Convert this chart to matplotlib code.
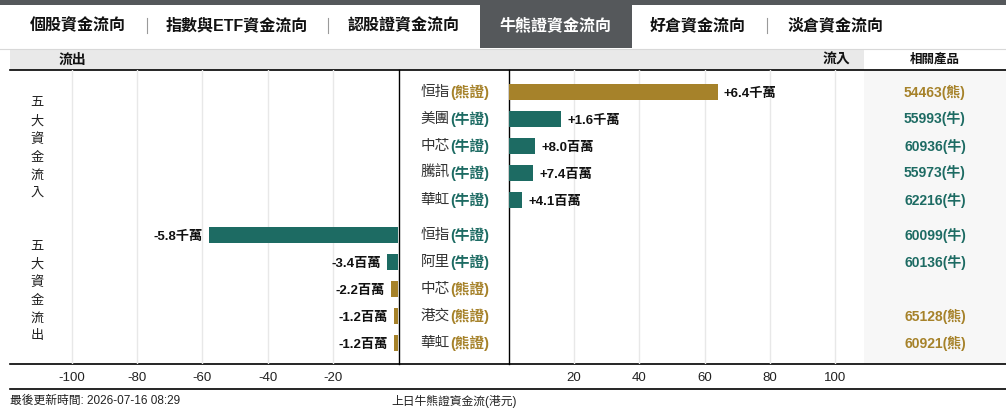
import numpy as np
import matplotlib.pyplot as plt
from matplotlib.patches import Rectangle

plt.rcParams['axes.unicode_minus'] = False

##### DATA (百萬港元) #####
IN_NAMES = ['恒指', '美團', '中芯', '騰訊', '華虹']
IN_TYPES = ['熊證', '牛證', '牛證', '牛證', '牛證']
IN_VALUES = [64, 16, 8.0, 7.4, 4.1]
IN_PRODUCTS = ['54463(熊)', '55993(牛)', '60936(牛)', '55973(牛)', '62216(牛)']

OUT_NAMES = ['恒指', '阿里', '中芯', '港交', '華虹']
OUT_TYPES = ['牛證', '牛證', '熊證', '熊證', '熊證']
OUT_VALUES = [-58, -3.4, -2.2, -1.2, -1.2]
OUT_PRODUCTS = ['60099(牛)', '60136(牛)', '', '65128(熊)', '60921(熊)']

TABS = ['個股資金流向', '指數與ETF資金流向', '認股證資金流向', '牛熊證資金流向', '好倉資金流向', '淡倉資金流向']
ACTIVE_TAB = 3
LEFT_TICKS = [-100, -80, -60, -40, -20]
RIGHT_TICKS = [20, 40, 60, 80, 100]
UPDATE_TIME = '2026-07-16 08:29'

##### STYLE #####
W, H = 1006, 413
GOLD = '#a6822a'
TEAL = '#1d6b63'
DARK = '#55585b'
CJK = ['Noto Sans CJK TC']
MIX = ['Liberation Sans', 'Noto Sans CJK TC']
TYPE_COLOR = {'熊證': GOLD, '牛證': TEAL}

PX_PER_UNIT = 65.25 / 20
ZERO_L, ZERO_R = 398.25, 508.75
BODY_TOP, BODY_BOT = 70, 364
ROW0, ROW_STEP = 92, 27


def fmt(v):
    sign = '+' if v > 0 else '-'
    a = abs(v)
    if a >= 10:
        return f'{sign}{a / 10:.1f}千萬'
    return f'{sign}{a:.1f}百萬'


def fig_rect(x0, x1):
    return [x0 / W, 1 - BODY_BOT / H, (x1 - x0) / W, (BODY_BOT - BODY_TOP) / H]


fig = plt.figure(figsize=(W / 100, H / 100), dpi=100)
bg = fig.add_axes([0, 0, 1, 1])
bg.set_xlim(0, W)
bg.set_ylim(H, 0)
bg.axis('off')

# top bar and tabs
bg.add_patch(Rectangle((0, 0), W, 4.5, color=DARK, lw=0))
bg.add_patch(Rectangle((480, 0), 152, 48, color=DARK, lw=0))
tab_x = [78, 237, 404, 556, 698, 836]
for i, (t, x) in enumerate(zip(TABS, tab_x)):
    bg.text(x, 25, t, ha='center', va='center', fontsize=11.5, fontweight='bold',
            family=MIX, color='white' if i == ACTIVE_TAB else '#111111')
for x in [147, 328, 767]:
    bg.plot([x, x], [18, 33], color='#9a9a9a', lw=0.8)

# header band
bg.add_patch(Rectangle((10, 48.5), 854, 21, color='#e9e9e9', lw=0))
bg.plot([0, W], [48.5, 48.5], color='#d8d8d8', lw=0.8)
bg.text(72, 59.5, '流出', ha='center', va='center', fontsize=10, fontweight='bold', family=CJK, color='#111111')
bg.text(836, 59.5, '流入', ha='center', va='center', fontsize=10, fontweight='bold', family=CJK, color='#111111')
bg.text(935, 59.5, '相關產品', ha='center', va='center', fontsize=9, fontweight='bold', family=CJK, color='#111111')

# product column background
bg.add_patch(Rectangle((864, BODY_TOP), W - 864, BODY_BOT - BODY_TOP, color='#f7f7f7', lw=0))

# lines
bg.plot([10, W], [BODY_TOP, BODY_TOP], color='black', lw=1.2)
bg.plot([10, W], [BODY_BOT, BODY_BOT], color='black', lw=1.2)
bg.plot([10, W], [389, 389], color='black', lw=1.2)
bg.plot([ZERO_L + 0.5, ZERO_L + 0.5], [BODY_TOP, BODY_BOT], color='black', lw=1)
bg.plot([ZERO_R, ZERO_R], [BODY_TOP, BODY_BOT], color='black', lw=1)

# group labels
bg.text(37, 148, '\n'.join('五大資金流入'), ha='center', va='center', fontsize=9.5,
        family=CJK, color='#222222', linespacing=1.5)
bg.text(37, 291, '\n'.join('五大資金流出'), ha='center', va='center', fontsize=9.5,
        family=CJK, color='#222222', linespacing=1.5)

# footer
bg.text(10, 401, f'最後更新時間: {UPDATE_TIME}', ha='left', va='center', fontsize=8.5, family=MIX, color='#222222')
bg.text(454, 401, '上日牛熊證資金流(港元)', ha='center', va='center', fontsize=8.5, family=MIX, color='#222222')

# data axes
y_in = np.arange(len(IN_VALUES))
y_out = np.arange(len(OUT_VALUES)) + 5.3
ylim = ((BODY_BOT - ROW0) / ROW_STEP, (BODY_TOP - ROW0) / ROW_STEP)

ax_l = fig.add_axes(fig_rect(10, ZERO_L))
ax_r = fig.add_axes(fig_rect(ZERO_R, 864))
ax_l.set_xlim(-(ZERO_L - 10) / PX_PER_UNIT, 0)
ax_r.set_xlim(0, (864 - ZERO_R) / PX_PER_UNIT)
ax_l.set_xticks(LEFT_TICKS)
ax_r.set_xticks(RIGHT_TICKS)

for ax in (ax_l, ax_r):
    ax.set_ylim(*ylim)
    ax.set_facecolor('none')
    ax.set_yticks([])
    for s in ax.spines.values():
        s.set_visible(False)
    ax.grid(axis='x', color='#e8e8e8', lw=1)
    ax.set_axisbelow(True)
    ax.tick_params(axis='x', length=0, pad=6, labelsize=9.5, labelcolor='#222222')
    for lbl in ax.get_xticklabels():
        lbl.set_family(MIX)

ax_r.barh(y_in, IN_VALUES, height=0.6, color=[TYPE_COLOR[t] for t in IN_TYPES])
ax_l.barh(y_out, OUT_VALUES, height=0.6, color=[TYPE_COLOR[t] for t in OUT_TYPES])

for y, v in zip(y_in, IN_VALUES):
    ax_r.annotate(fmt(v), (v, y), xytext=(4.5, -1.2), textcoords='offset points', ha='left', va='center',
                  fontsize=9.5, fontweight='bold', family=MIX, color='#111111')
for y, v in zip(y_out, OUT_VALUES):
    ax_l.annotate(fmt(v), (v, y), xytext=(-4.5, -1.2), textcoords='offset points', ha='right', va='center',
                  fontsize=9.5, fontweight='bold', family=MIX, color='#111111')

# middle names and right product codes
rows = list(zip(y_in, IN_NAMES, IN_TYPES, IN_PRODUCTS)) + list(zip(y_out, OUT_NAMES, OUT_TYPES, OUT_PRODUCTS))
for y, name, typ, prod in rows:
    ypx = ROW0 + y * ROW_STEP
    t = bg.text(489, ypx, f'({typ})', ha='right', va='center', fontsize=10.5, fontweight='bold',
                family=MIX, color=TYPE_COLOR[typ])
    bg.annotate(name, xy=(0, 0.5), xycoords=t, ha='right', va='center', fontsize=10.5,
                family=MIX, color='#333333')
    if prod:
        bg.text(935, ypx, prod, ha='center', va='center', fontsize=10, fontweight='bold',
                family=MIX, color=TYPE_COLOR[typ])

fig.savefig('out.png', dpi=100)
